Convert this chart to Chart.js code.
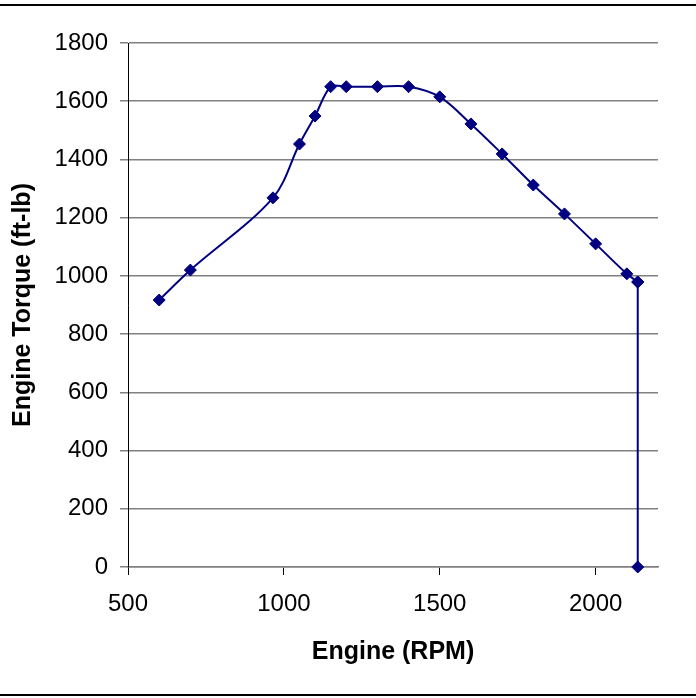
<!DOCTYPE html>
<html>
<head>
<meta charset="utf-8">
<script src="https://cdn.jsdelivr.net/npm/chart.js@4"></script>
<style>
html, body { margin: 0; padding: 0; background: #fff; }
#wrap { width: 696px; height: 698px; position: relative; }
</style>
</head>
<body>
<div id="wrap"><canvas id="torqueChart" width="696" height="698"></canvas></div>
<script>
// engine curve
var rpm = [600, 700, 965, 1050, 1100, 1150, 1200, 1300, 1400, 1500, 1600, 1700, 1800, 1900, 2000, 2100, 2135];
var torque = [917, 1020, 1268, 1453, 1549, 1650, 1650, 1650, 1650, 1615, 1522, 1419, 1312, 1213, 1110, 1007, 979];
// governor cut-off: straight drop to zero
var cutRpm = [2135, 2135];
var cutTorque = [979, 0];
var xTicks = [500, 1000, 1500, 2000];

var curve = rpm.map(function (r, i) { return {x: r, y: torque[i]}; });
var cut = cutRpm.map(function (r, i) { return {x: r, y: cutTorque[i]}; });

// top and bottom frame lines
var frame = {
  id: 'frame',
  afterDraw: function (chart) {
    var c = chart.ctx;
    c.save();
    c.strokeStyle = '#000';
    c.lineWidth = 2;
    c.beginPath();
    c.moveTo(0, 5); c.lineTo(696, 5);
    c.moveTo(0, 695); c.lineTo(696, 695);
    c.stroke();
    c.restore();
  }
};

var ctx = document.getElementById('torqueChart').getContext('2d');
var myChart = new Chart(ctx, {
  type: 'scatter',
  data: {
    datasets: [{
      label: 'Torque',
      data: curve,
      showLine: true,
      tension: 0.33,
      clip: false,
      borderColor: '#000080',
      backgroundColor: '#000080',
      borderWidth: 2,
      pointStyle: 'rectRot',
      pointRadius: 6,
      pointBorderWidth: 1,
      pointHoverRadius: 6
    },
    {
      label: 'Cut-off',
      data: cut,
      showLine: true,
      tension: 0,
      clip: false,
      borderColor: '#000080',
      backgroundColor: '#000080',
      borderWidth: 2,
      pointStyle: 'rectRot',
      pointRadius: 6,
      pointBorderWidth: 1,
      pointHoverRadius: 6
    }]
  },
  options: {
    responsive: false,
    animation: false,
    layout: { padding: { top: 43, right: 38, bottom: 0, left: 0 } },
    plugins: { legend: { display: false }, tooltip: { enabled: false } },
    scales: {
      x: {
        type: 'linear',
        min: 500,
        max: 2200,
        afterFit: function (s) { s.height = 131; },
        afterBuildTicks: function (s) { s.ticks = xTicks.map(function (v) { return {value: v}; }); },
        ticks: {
          padding: 15,
          color: '#000',
          callback: function (v) { return String(v); },
          font: { family: 'Liberation Sans, Arial', size: 24 }
        },
        grid: { drawOnChartArea: false, tickLength: 8, tickColor: '#000', color: '#000' },
        border: { color: '#808080', width: 1.5 },
        title: {
          display: true,
          text: 'Engine (RPM)',
          color: '#000',
          padding: { top: 0, bottom: 31 },
          font: { family: 'Liberation Sans, Arial', size: 25, weight: 'bold' }
        }
      },
      y: {
        min: 0,
        max: 1800,
        afterFit: function (s) { s.width = 128; },
        ticks: {
          stepSize: 200,
          padding: 12,
          color: '#000',
          callback: function (v) { return String(v); },
          font: { family: 'Liberation Sans, Arial', size: 24 }
        },
        grid: { color: '#808080', lineWidth: 1.5, tickLength: 8 },
        border: { color: '#000', width: 1 },
        title: {
          display: true,
          text: 'Engine Torque (ft-lb)',
          color: '#000',
          padding: { top: 8, bottom: 0 },
          font: { family: 'Liberation Sans, Arial', size: 25, weight: 'bold' }
        }
      }
    }
  },
  plugins: [frame]
});
</script>
</body>
</html>
